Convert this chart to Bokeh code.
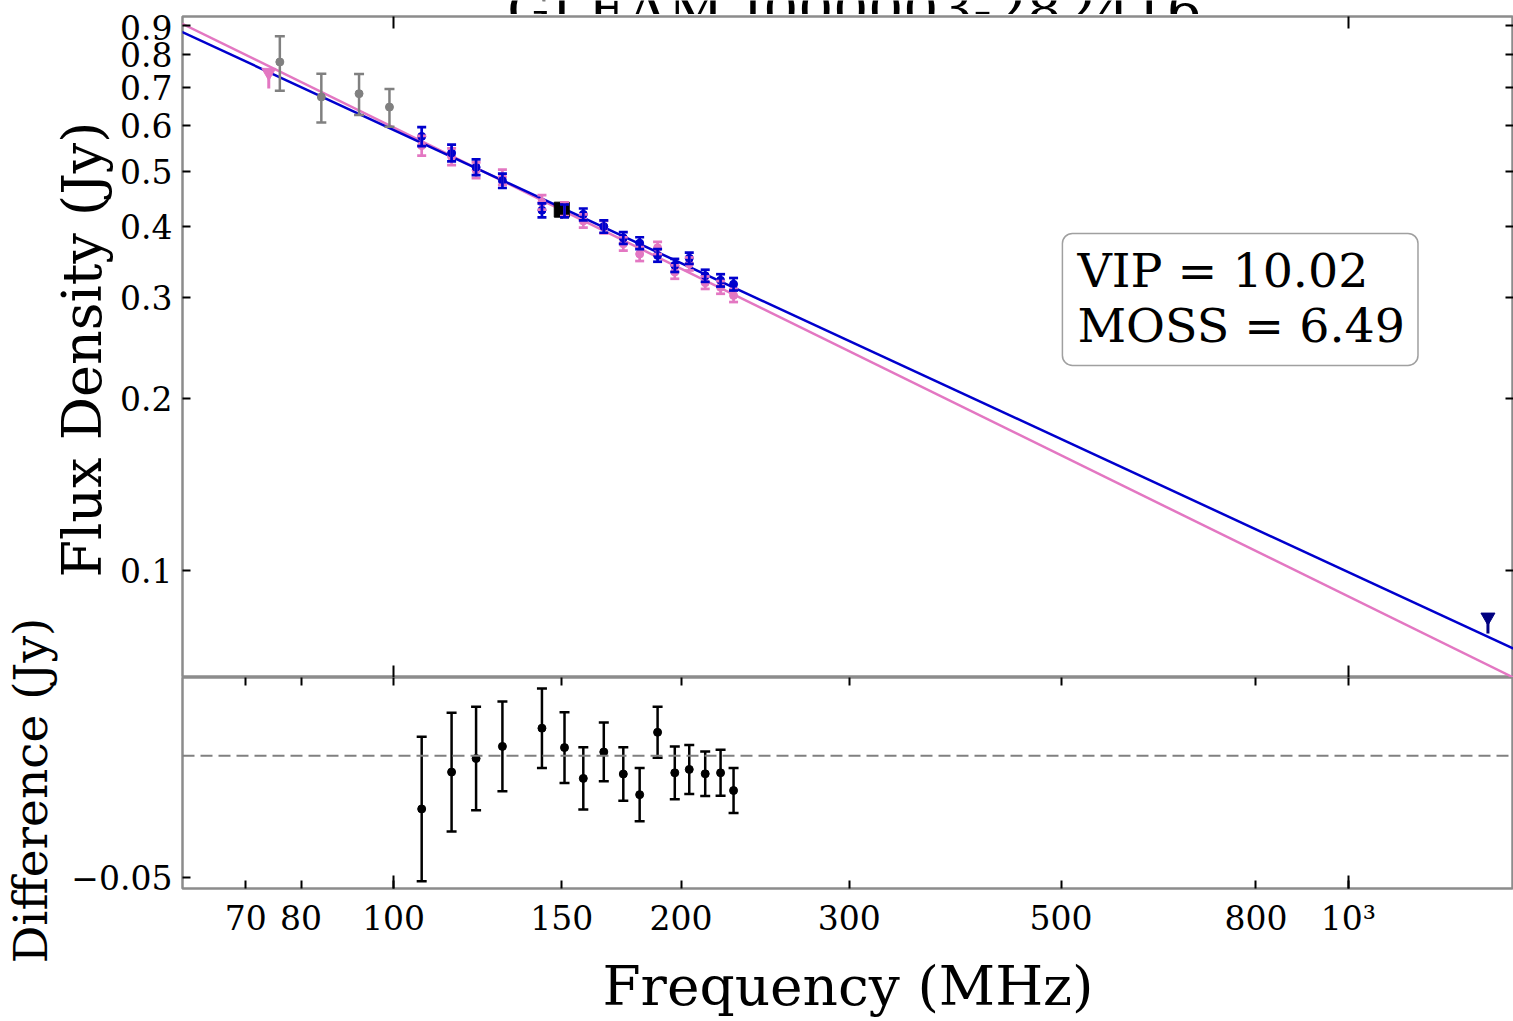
import numpy as np
from bokeh.plotting import figure
from bokeh.models import (Range1d, LogAxis, LinearAxis, FixedTicker, PrintfTickFormatter,
                          CustomJSTickFormatter, Whisker, TeeHead, ColumnDataSource, Label, Span)
from bokeh.layouts import row, column
from bokeh.embed import file_html
from bokeh.resources import INLINE

# ---------------- data ----------------
title_text = "GLEAM J000003-282416"
stats_text = "VIP = 10.02\nMOSS = 6.49"

gray_freq = [76, 84, 92, 99]
gray_flux = [0.776, 0.674, 0.683, 0.647]
gray_err = [0.085, 0.066, 0.056, 0.049]

gleam_freq = [107, 115, 122, 130, 143, 151, 158, 166, 174, 181, 189, 197, 204, 212, 220, 227]
blue_flux = [0.575, 0.538, 0.508, 0.481, 0.427, 0.426, 0.420, 0.400, 0.382, 0.374,
             0.356, 0.342, 0.352, 0.328, 0.322, 0.317]
blue_err = [0.022, 0.018, 0.016, 0.014, 0.012, 0.011, 0.010, 0.010, 0.009, 0.009,
            0.009, 0.009, 0.008, 0.008, 0.008, 0.008]
pink_flux = [0.554, 0.530, 0.502, 0.488, 0.441, 0.429, 0.409, 0.399, 0.373, 0.358,
             0.367, 0.333, 0.344, 0.319, 0.313, 0.303]
pink_err = [0.022, 0.018, 0.016, 0.015, 0.013, 0.012, 0.011, 0.010, 0.010, 0.010,
            0.009, 0.009, 0.009, 0.008, 0.008, 0.008]

tgss_freq = [150]
tgss_flux = [0.428]
tgss_err = [0.015]

pink_lim_freq = [74]
pink_lim_flux = [0.744]
pink_lim_low = [0.697]
navy_lim_freq = [1400]
navy_lim_flux = [0.0829]
navy_lim_low = [0.0776]

blue_fit_freq = [60, 1500]
blue_fit_flux = [0.876, 0.0726]
pink_fit_freq = [60, 1500]
pink_fit_flux = [0.906, 0.0646]

diff_val = [-0.0219, -0.0067, -0.0011, 0.0039, 0.0114, 0.0034, -0.0093, 0.0016,
            -0.0075, -0.0160, 0.0097, -0.0070, -0.0056, -0.0074, -0.0070, -0.0143]
diff_err = [0.0298, 0.0245, 0.0213, 0.0185, 0.0164, 0.0146, 0.0128, 0.0121,
            0.0110, 0.0110, 0.0105, 0.0109, 0.0101, 0.0092, 0.0095, 0.0093]

y_ticks = [0.1, 0.2, 0.3, 0.4, 0.5, 0.6, 0.7, 0.8, 0.9]
x_ticks = [70, 80, 100, 150, 200, 300, 500, 800, 1000]
x_major = [100, 1000]
diff_ticks = [-0.05]

# ---------------- style / layout ----------------
FONT = "DejaVu Serif"
SPINE = "#8c8c8c"
BLUE = "mediumblue"
PINK = "#e377c2"
GRAY = "#808080"
NAVY = "#000080"

W_TOTAL = 1513
FRAME_LEFT = 182
W_LS1 = 58      # strip holding "Difference (Jy)"
W_LS2 = 58      # strip holding "Flux Density (Jy)"
H_TITLE = 14
H_TOP = 663
H_BOT = 343


def bare_axis(cls, ticks, tick_in):
    return cls(ticker=FixedTicker(ticks=ticks), major_tick_in=tick_in, major_tick_out=0,
               minor_tick_in=0, minor_tick_out=0, major_tick_line_width=2,
               major_tick_line_color="black", axis_line_color=None,
               major_label_text_font_size="0px", major_label_standoff=0,
               major_label_overrides={t: "" for t in ticks})


def errbars(p, xs, ys, errs, color, width, head):
    src = ColumnDataSource(dict(x=xs, upper=[y + e for y, e in zip(ys, errs)],
                                lower=[y - e for y, e in zip(ys, errs)]))
    p.add_layout(Whisker(source=src, base="x", upper="upper", lower="lower",
                         line_color=color, line_width=width, level="glyph",
                         upper_head=TeeHead(size=head, line_color=color, line_width=width),
                         lower_head=TeeHead(size=head, line_color=color, line_width=width)))


def strip(width, height, x0, y0):
    s = figure(width=width, height=height, x_range=Range1d(x0, x0 + width),
               y_range=Range1d(y0 + height, y0), x_axis_location=None, y_axis_location=None,
               min_border=0, outline_line_color=None, toolbar_location=None,
               output_backend="svg")
    s.grid.visible = False
    return s


x_range = Range1d(60.1, 1489)

# ---------------- title strip (title is cut by the top edge) ----------------
TS = strip(W_TOTAL, H_TITLE, 0, 0)
TS.add_layout(Label(x=854, y=9.5, text=title_text, text_align="center",
                    text_baseline="alphabetic", text_font=FONT, text_font_size="55px",
                    text_color="black"))

# ---------------- upper panel ----------------
T = figure(width=W_TOTAL - W_LS1 - W_LS2, height=H_TOP, x_axis_type="log", y_axis_type="log",
           x_axis_location=None, y_axis_location=None,
           x_range=x_range, y_range=Range1d(0.065, 0.932),
           output_backend="svg", toolbar_location=None,
           min_border_left=FRAME_LEFT - W_LS1 - W_LS2, min_border_right=0,
           min_border_top=2, min_border_bottom=0)
T.grid.visible = False
T.outline_line_color = SPINE
T.outline_line_width = 2.5

ly = LogAxis(ticker=FixedTicker(ticks=y_ticks), formatter=PrintfTickFormatter(format="%.1f"),
             major_tick_in=8, major_tick_out=0, minor_tick_in=0, minor_tick_out=0,
             major_tick_line_width=2, major_tick_line_color="black", axis_line_color=None,
             major_label_text_font=FONT, major_label_text_font_size="33px",
             major_label_standoff=10, major_label_text_color="black")
T.add_layout(ly, "left")
T.add_layout(bare_axis(LogAxis, y_ticks, 8), "right")
T.add_layout(bare_axis(LogAxis, x_major, 12), "above")
T.add_layout(bare_axis(LogAxis, x_major, 12), "below")

T.line(pink_fit_freq, pink_fit_flux, line_color=PINK, line_width=2.5)
T.line(blue_fit_freq, blue_fit_flux, line_color=BLUE, line_width=2.5)

errbars(T, gray_freq, gray_flux, gray_err, GRAY, 2.5, 10)
T.scatter(gray_freq, gray_flux, marker="circle", size=8, color=GRAY)

errbars(T, gleam_freq, pink_flux, pink_err, PINK, 2.7, 9)
T.scatter(gleam_freq, pink_flux, marker="circle", size=8, color=PINK)
errbars(T, gleam_freq, blue_flux, blue_err, BLUE, 2.7, 9)
T.scatter(gleam_freq, blue_flux, marker="circle", size=8, color=BLUE)

T.segment(tgss_freq, [f - e for f, e in zip(tgss_flux, tgss_err)],
          tgss_freq, [f + e for f, e in zip(tgss_flux, tgss_err)],
          line_color="black", line_width=2.5)
T.scatter(tgss_freq, tgss_flux, marker="square", size=15, color="black")

T.segment(pink_lim_freq, pink_lim_flux, pink_lim_freq, pink_lim_low, line_color=PINK, line_width=3)
T.scatter(pink_lim_freq, pink_lim_flux, marker="inverted_triangle", size=14, color=PINK)
T.segment(navy_lim_freq, navy_lim_flux, navy_lim_freq, navy_lim_low, line_color=NAVY, line_width=3)
T.scatter(navy_lim_freq, navy_lim_flux, marker="inverted_triangle", size=14, color=NAVY)

T.add_layout(Label(x=501.7, y=0.3889, text=stats_text, text_align="left", text_baseline="top",
                   text_font=FONT, text_font_size="47.5px", text_color="black",
                   text_line_height=1.0,
                   background_fill_color="white", border_line_color="#a0a0a0",
                   border_line_width=1.5, border_radius=10, padding=(15, 13, 10, 12)))

# ---------------- lower panel ----------------
B = figure(width=W_TOTAL - W_LS1, height=H_BOT, x_axis_type="log",
           x_axis_location=None, y_axis_location=None,
           x_range=x_range, y_range=Range1d(-0.0547, 0.0323),
           output_backend="svg", toolbar_location=None,
           min_border_left=FRAME_LEFT - W_LS1, min_border_right=0, min_border_top=0,
           min_border_bottom=H_BOT - 221)
B.grid.visible = False
B.outline_line_color = SPINE
B.outline_line_width = 2.5

B.add_layout(bare_axis(LogAxis, x_major, 13), "below")
bx = LogAxis(ticker=FixedTicker(ticks=x_ticks), formatter=PrintfTickFormatter(format="%d"),
             major_label_overrides={1000: "10³"},
             major_tick_in=8, major_tick_out=0, minor_tick_in=0, minor_tick_out=0,
             major_tick_line_width=2, major_tick_line_color="black", axis_line_color=None,
             major_label_text_font=FONT, major_label_text_font_size="33px",
             major_label_standoff=10, major_label_text_color="black",
             axis_label="Frequency (MHz)", axis_label_text_font=FONT,
             axis_label_text_font_size="55px", axis_label_text_font_style="normal",
             axis_label_text_color="black", axis_label_standoff=13)
B.add_layout(bx, "below")
B.add_layout(bare_axis(LogAxis, x_ticks, 8), "above")

lyb = LinearAxis(ticker=FixedTicker(ticks=diff_ticks),
                 formatter=CustomJSTickFormatter(code="return '\u2212' + Math.abs(tick).toFixed(2)"),
                 major_tick_in=8, major_tick_out=0, minor_tick_in=0, minor_tick_out=0,
                 major_tick_line_width=2, major_tick_line_color="black", axis_line_color=None,
                 major_label_text_font=FONT, major_label_text_font_size="33px",
                 major_label_standoff=10, major_label_text_color="black")
B.add_layout(lyb, "left")

B.add_layout(Span(location=0, dimension="width", line_color=GRAY, line_width=2,
                  line_dash="12 6"))
errbars(B, gleam_freq, diff_val, diff_err, "black", 2.5, 10)
B.scatter(gleam_freq, diff_val, marker="circle", size=8, color="black")

# ---------------- strips for the y-axis titles ----------------
LS1 = strip(W_LS1, H_TOP + H_BOT, 0, H_TITLE)
LS1.add_layout(Label(x=30, y=790, text="Difference (Jy)", angle=np.pi / 2,
                     text_align="center", text_baseline="middle", text_font=FONT,
                     text_font_size="47px", text_color="black"))
LS2 = strip(W_LS2, H_TOP, W_LS1, H_TITLE)
LS2.add_layout(Label(x=82, y=348, text="Flux Density (Jy)", angle=np.pi / 2,
                     text_align="center", text_baseline="middle", text_font=FONT,
                     text_font_size="54px", text_color="black"))

layout = column(TS,
                row(LS1, column(row(LS2, T, spacing=0), B, spacing=0), spacing=0),
                spacing=0)
open("out.html", "w").write(file_html(layout, INLINE))
